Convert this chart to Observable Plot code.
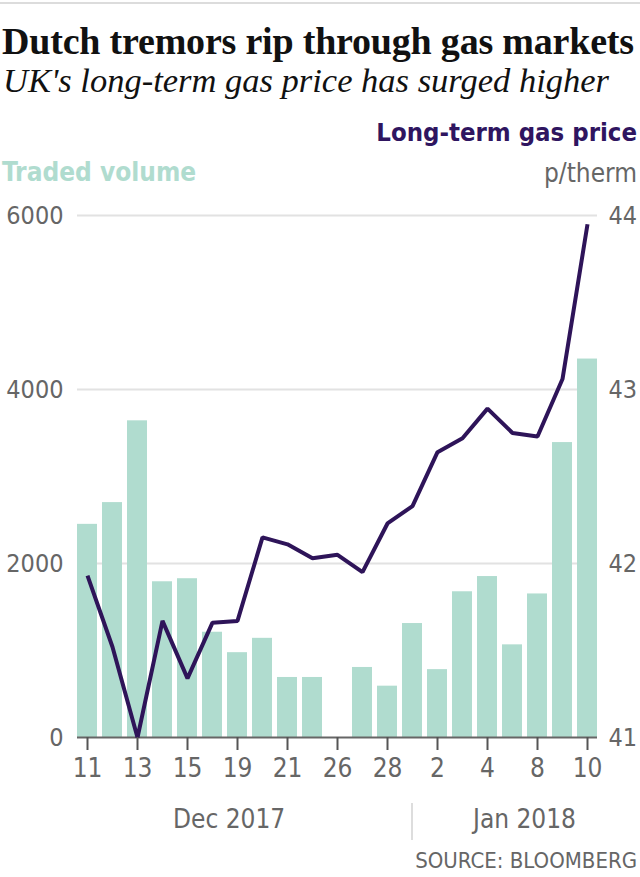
<!DOCTYPE html>
<html>
<head>
<meta charset="utf-8">
<script src="https://cdn.jsdelivr.net/npm/d3@7"></script>
<script src="https://cdn.jsdelivr.net/npm/@observablehq/plot@0.6"></script>
<style>
  html, body { margin: 0; padding: 0; background: #fff; }
  #wrap { position: relative; width: 640px; height: 877px; overflow: hidden; }
  .t { position: absolute; white-space: nowrap; line-height: 1; }
  .sans { font-family: "DejaVu Sans Condensed", "Liberation Sans Narrow", "Roboto Condensed", sans-serif; font-stretch: condensed; }
  #topline { position: absolute; left: 0; top: 2px; width: 640px; height: 2px; background: #dcdcdc; }
  #title { left: 2px; top: 22px; font-family: "Liberation Serif", "DejaVu Serif", serif; font-weight: bold; font-size: 38px; color: #111; letter-spacing: -0.2px; }
  #subtitle { left: 3px; top: 63px; font-family: "Liberation Serif", "DejaVu Serif", serif; font-style: italic; font-size: 34.5px; color: #111; }
  #lprice { right: 3px; top: 120px; font-weight: bold; font-size: 25.5px; color: #2f1560; }
  #lvol { left: 2px; top: 159px; font-weight: bold; font-size: 26px; color: #b0dccf; }
  #unit { right: 3px; top: 160px; font-size: 26px; color: #666; }
  #chart { position: absolute; left: 0; top: 190px; }
  #dec { left: 173px; top: 806px; font-size: 26px; color: #666; }
  #jan { left: 473px; top: 806px; font-size: 26px; color: #666; }
  #sep { position: absolute; left: 411px; top: 803px; width: 2px; height: 37px; background: #ddd; }
  #source { right: 3px; top: 850px; font-size: 22px; color: #666; }
</style>
</head>
<body>
<div id="wrap">
  <div id="topline"></div>
  <div class="t" id="title">Dutch tremors rip through gas markets</div>
  <div class="t" id="subtitle">UK's long-term gas price has surged higher</div>
  <div class="t sans" id="lprice">Long-term gas price</div>
  <div class="t sans" id="lvol">Traded volume</div>
  <div class="t sans" id="unit">p/therm</div>
  <div id="chart"></div>
  <div class="t sans" id="dec">Dec 2017</div>
  <div id="sep"></div>
  <div class="t sans" id="jan">Jan 2018</div>
  <div class="t sans" id="source">SOURCE: BLOOMBERG</div>
</div>
<script>
// Trading days
const dates = [
  "2017-12-11","2017-12-12","2017-12-13","2017-12-14","2017-12-15",
  "2017-12-18","2017-12-19","2017-12-20","2017-12-21","2017-12-22",
  "2017-12-26","2017-12-27","2017-12-28","2017-12-29",
  "2018-01-02","2018-01-03","2018-01-04","2018-01-05",
  "2018-01-08","2018-01-09","2018-01-10"
];
// Traded volume (left axis)
const volume = [2450, 2700, 3640, 1790, 1825, 1210, 975, 1140, 690, 690, null, 805, 590, 1310, 780, 1675, 1850, 1065, 1650, 3390, 4350];
// Long-term gas price, p/therm (right axis)
const price = [41.93, 41.52, 41.00, 41.67, 41.34, 41.66, 41.67, 42.15, 42.11, 42.03, 42.05, 41.95, 42.23, 42.33, 42.64, 42.72, 42.89, 42.75, 42.73, 43.06, 43.95];
// Axis ticks
const volTicks = [0, 2000, 4000, 6000];
const priceTicks = [41, 42, 43, 44];
const tickDates = dates.filter((d, i) => i % 2 === 0);

const volDomain = [volTicks[0], volTicks[volTicks.length - 1]];
const priceDomain = [priceTicks[0], priceTicks[priceTicks.length - 1]];
// map price onto the volume axis (dual axis)
const p2v = d3.scaleLinear().domain(priceDomain).range(volDomain);

const data = dates.map((d, i) => ({date: d, volume: volume[i], price: price[i]}));

const sans = '"DejaVu Sans Condensed", "Liberation Sans Narrow", "Roboto Condensed", sans-serif';

const chart = Plot.plot({
  width: 640,
  height: 605,
  marginLeft: 77,
  marginRight: 43,
  marginTop: 25,
  marginBottom: 58,
  style: {fontFamily: sans, fontSize: "25px", color: "#666", background: "transparent", fontStretch: "condensed"},
  x: {type: "band", domain: dates, paddingInner: 0.2, paddingOuter: 0},
  y: {domain: volDomain},
  marks: [
    Plot.gridY(volTicks.slice(1), {stroke: "#e2e2e2", strokeOpacity: 1, strokeWidth: 2}),
    Plot.barY(data, {x: "date", y: "volume", fill: "#b0dccf"}),
    Plot.ruleY([0], {stroke: "#666", strokeWidth: 2}),
    Plot.line(data, {x: "date", y: d => p2v(d.price), stroke: "#2e1459", strokeWidth: 4, strokeLinejoin: "miter", strokeLinecap: "butt"}),
    Plot.axisY(volTicks, {anchor: "left", tickSize: 0, tickPadding: 14, label: null, fill: "#666", tickFormat: v => String(v)}),
    Plot.axisY(priceTicks.map(p2v), {anchor: "right", tickSize: 0, tickPadding: 11, label: null, fill: "#666", tickFormat: v => String(Math.round(p2v.invert(v)))}),
    Plot.axisX(tickDates, {anchor: "bottom", tickSize: 13, tickPadding: 8, label: null, stroke: "#555", strokeWidth: 2, fill: "#666", fontSize: 26, tickFormat: d => String(+d.slice(8))})
  ]
});
document.getElementById("chart").appendChild(chart);
</script>
</body>
</html>
